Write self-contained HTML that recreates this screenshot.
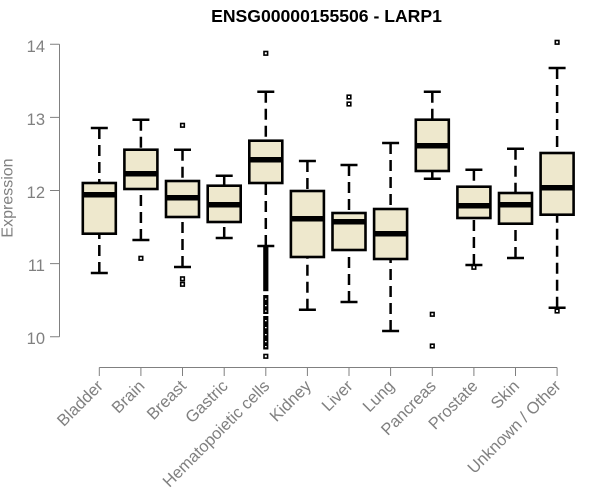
<!DOCTYPE html>
<html>
<head>
<meta charset="utf-8">
<style>
html,body{margin:0;padding:0;background:#fff;}
svg{display:block;}
text{font-family:"Liberation Sans",Arial,sans-serif;}
</style>
</head>
<body>
<svg width="600" height="500" viewBox="0 0 600 500" xmlns="http://www.w3.org/2000/svg">
<rect width="600" height="500" fill="#fff"/>
<text x="326.5" y="22" text-anchor="middle" font-size="17.6" font-weight="bold" fill="#000">ENSG00000155506 - LARP1</text>

<g stroke="#808080" stroke-width="1" fill="none">
<path d="M59.5,44.3V336.7M50,44.3H59.5M50,117.4H59.5M50,190.5H59.5M50,263.6H59.5M50,336.7H59.5"/>
<path d="M99.3,367.5H557.1M99.3,367.5V376M140.9,367.5V376M182.5,367.5V376M224.2,367.5V376M265.8,367.5V376M307.4,367.5V376M349,367.5V376M390.6,367.5V376M432.3,367.5V376M473.9,367.5V376M515.5,367.5V376M557.1,367.5V376"/>
</g>
<g fill="#808080" font-size="16.5" text-anchor="end">
<text x="45" y="51.8">14</text>
<text x="45" y="124.9">13</text>
<text x="45" y="198">12</text>
<text x="45" y="271.1">11</text>
<text x="45" y="344.2">10</text>
</g>
<text transform="translate(12.5,198) rotate(-90)" text-anchor="middle" font-size="16" fill="#808080">Expression</text>

<g fill="#808080" font-size="16.5" text-anchor="end">
<text transform="translate(104,387) rotate(-45)">Bladder</text>
<text transform="translate(145.6,387) rotate(-45)">Brain</text>
<text transform="translate(187.2,387) rotate(-45)">Breast</text>
<text transform="translate(228.9,387) rotate(-45)">Gastric</text>
<text transform="translate(270.5,387) rotate(-45)">Hematopoietic cells</text>
<text transform="translate(312.1,387) rotate(-45)">Kidney</text>
<text transform="translate(353.7,387) rotate(-45)">Liver</text>
<text transform="translate(395.3,387) rotate(-45)">Lung</text>
<text transform="translate(437,387) rotate(-45)">Pancreas</text>
<text transform="translate(478.6,387) rotate(-45)">Prostate</text>
<text transform="translate(520.2,387) rotate(-45)">Skin</text>
<text transform="translate(561.8,387) rotate(-45)">Unknown / Other</text>
</g>

<g stroke="#000" stroke-width="2.5" stroke-dasharray="11 6" fill="none">
<path d="M99.3,128V183M99.3,273V233.7"/>
<path d="M140.9,119.7V149.7M140.9,240V189"/>
<path d="M182.5,149.7V181M182.5,267V217"/>
<path d="M224.2,175.7V185.7M224.2,238V222"/>
<path d="M265.8,91.7V140.7M265.8,246V183"/>
<path d="M307.4,161V191M307.4,309.7V257"/>
<path d="M349,165V213M349,302V250"/>
<path d="M390.6,143V209M390.6,331V259"/>
<path d="M432.3,91.7V119.7M432.3,178.7V171"/>
<path d="M473.9,169.7V186.7M473.9,265V218"/>
<path d="M515.5,148.7V193M515.5,258V223.7"/>
<path d="M557.1,68V153M557.1,307.7V214.7"/>
</g>
<g stroke="#000" stroke-width="2.5" fill="none">
<path d="M90.8,128h17M90.8,273h17M132.4,119.7h17M132.4,240h17M174,149.7h17M174,267h17M215.7,175.7h17M215.7,238h17M257.3,91.7h17M257.3,246h17M298.9,161h17M298.9,309.7h17M340.5,165h17M340.5,302h17M382.1,143h17M382.1,331h17M423.8,91.7h17M423.8,178.7h17M465.4,169.7h17M465.4,265h17M507,148.7h17M507,258h17M548.6,68h17M548.6,307.7h17"/>
</g>
<g stroke="#000" stroke-width="2.6" fill="#EEE8CD">
<rect x="82.8" y="183" width="33" height="50.7"/>
<rect x="124.4" y="149.7" width="33" height="39.3"/>
<rect x="166" y="181" width="33" height="36"/>
<rect x="207.7" y="185.7" width="33" height="36.3"/>
<rect x="249.3" y="140.7" width="33" height="42.3"/>
<rect x="290.9" y="191" width="33" height="66"/>
<rect x="332.5" y="213" width="33" height="37"/>
<rect x="374.1" y="209" width="33" height="50"/>
<rect x="415.8" y="119.7" width="33" height="51.3"/>
<rect x="457.4" y="186.7" width="33" height="31.3"/>
<rect x="499" y="193" width="33" height="30.7"/>
<rect x="540.6" y="153" width="33" height="61.7"/>
</g>
<g stroke="#000" stroke-width="5.5" fill="none">
<path d="M82.8,194.7h33M124.4,173.7h33M166,197.7h33M207.7,204.7h33M249.3,159.7h33M290.9,218.7h33M332.5,221.7h33M374.1,233.7h33M415.8,145.7h33M457.4,205.7h33M499,204.7h33M540.6,187.7h33"/>
</g>
<g stroke="#000" stroke-width="1.6" fill="#fff">
<rect x="139.1" y="256.5" width="3.6" height="3.6"/>
<rect x="180.7" y="123.5" width="3.6" height="3.6"/>
<rect x="180.7" y="277" width="3.6" height="3.6"/>
<rect x="180.7" y="282.5" width="3.6" height="3.6"/>
<rect x="264" y="51.5" width="3.6" height="3.6"/>
<rect x="347.2" y="95.2" width="3.6" height="3.6"/>
<rect x="347.2" y="102.2" width="3.6" height="3.6"/>
<rect x="430.5" y="312.5" width="3.6" height="3.6"/>
<rect x="430.5" y="344.2" width="3.6" height="3.6"/>
<rect x="472.1" y="265.5" width="3.6" height="3.6"/>
<rect x="555.3" y="40.5" width="3.6" height="3.6"/>
<rect x="555.3" y="309.2" width="3.6" height="3.6"/>
<rect x="264" y="354.5" width="3.6" height="3.6"/>
</g>
<rect x="263.2" y="245.2" width="5.2" height="46" fill="#000"/>
<path fill="#000" d="M263.2,295h5.2v19h-5.2zM263.2,316h5.2v33.5h-5.2z"/>
<path fill="#fff" d="M265,298.5h1.6v1.2h-1.6zM265,305h1.6v1.2h-1.6zM265,310.5h1.6v1.2h-1.6zM265,320h1.6v1.2h-1.6zM265,327h1.6v1.2h-1.6zM265,334h1.6v1.2h-1.6zM265,341h1.6v1.2h-1.6zM265,346h1.6v1.2h-1.6z"/>
</svg>
</body>
</html>
